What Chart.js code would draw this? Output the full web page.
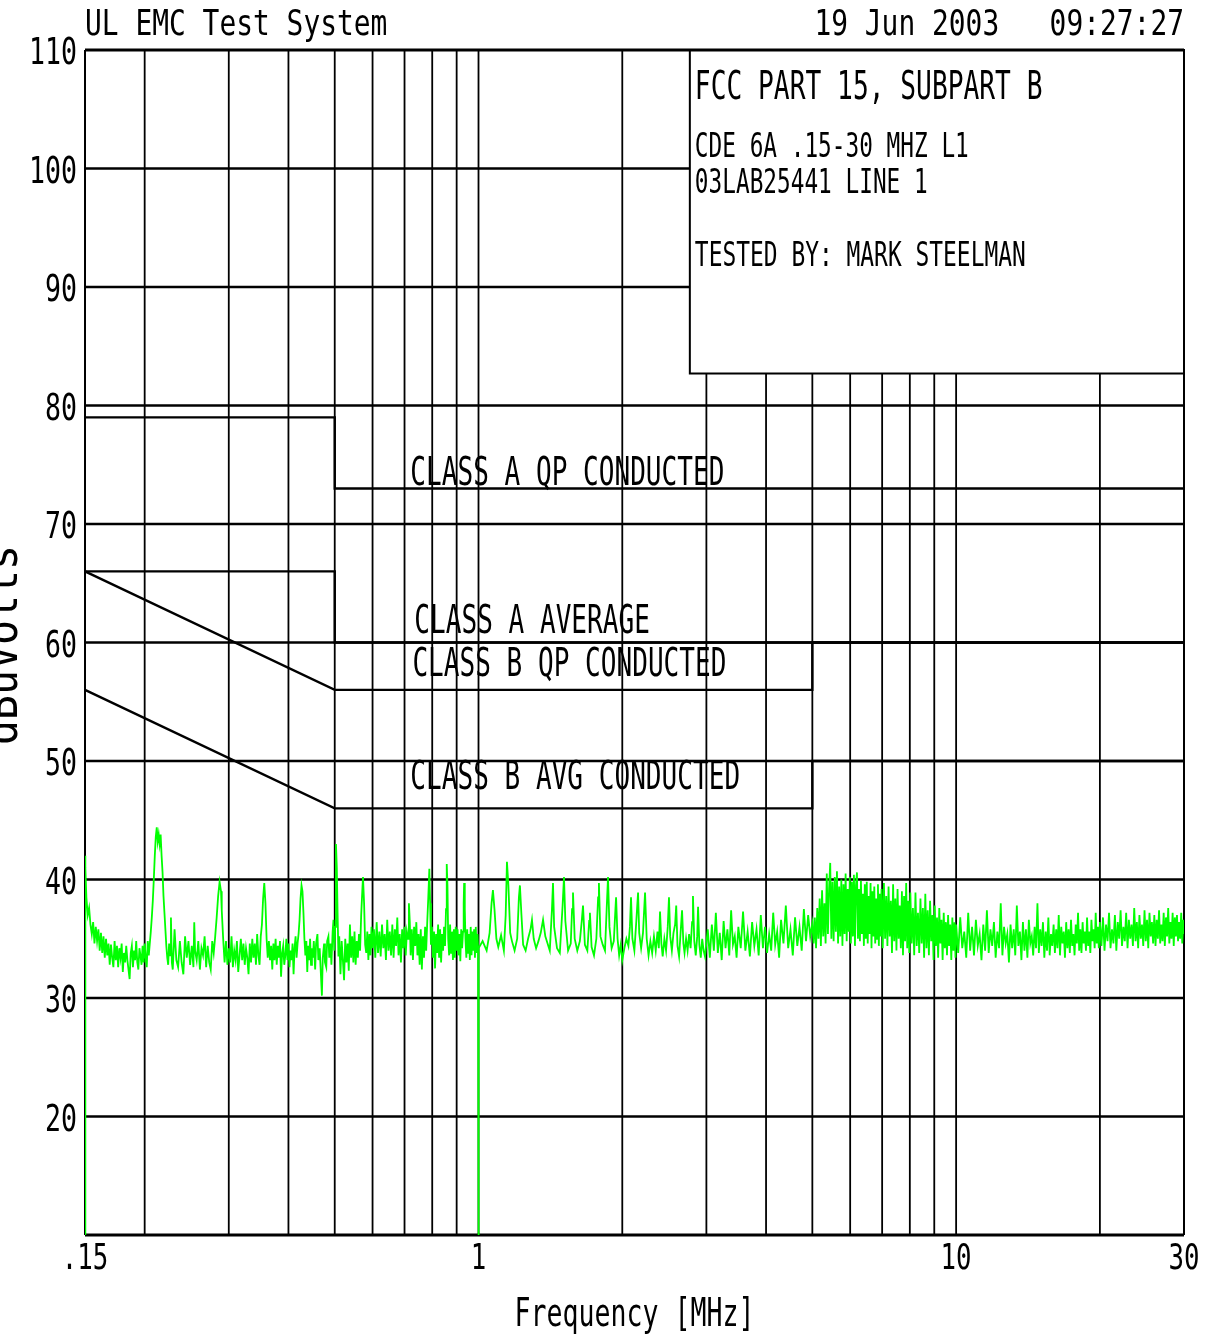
<!DOCTYPE html>
<html>
<head>
<meta charset="utf-8">
<title>UL EMC Test System</title>
<script src="https://cdn.jsdelivr.net/npm/chart.js@4.4.1/dist/chart.umd.min.js"></script>
<style>
  html, body { margin: 0; padding: 0; background: #fff; }
  #wrap { width: 1209px; height: 1340px; }
</style>
</head>
<body>
<div id="wrap"><canvas id="emc" width="1209" height="1340"></canvas></div>
<script>
// grid + axis labels
const freqGrid = [0.2, 0.3, 0.4, 0.5, 0.6, 0.7, 0.8, 0.9, 1, 2, 3, 4, 5, 6, 7, 8, 9, 10, 20];
const levelGrid = [20, 30, 40, 50, 60, 70, 80, 90, 100];
const freqLabels = [[0.15, '.15'], [1, '1'], [10, '10'], [30, '30']];
const levelLabels = [110, 100, 90, 80, 70, 60, 50, 40, 30, 20];

// FCC part 15 limit lines [MHz, dBuV]
const classAQP = [[0.15, 79], [0.5, 79], [0.5, 73], [30, 73]];
const classAAvg = [[0.15, 66], [0.5, 66], [0.5, 60], [30, 60]];
const classBQP = [[0.15, 66], [0.5, 56], [5, 56], [5, 60], [30, 60]];
const classBAvg = [[0.15, 56], [0.5, 46], [5, 46], [5, 50], [30, 50]];

// limit labels: text, left freq, baseline level
const limitLabels = [
  ['CLASS A QP CONDUCTED', 0.72, 73.25],
  ['CLASS A AVERAGE', 0.734, 60.8],
  ['CLASS B QP CONDUCTED', 0.727, 57.2],
  ['CLASS B AVG CONDUCTED', 0.72, 47.6]
];

// info box corner (freq, level)
const infoBoxFreq = 2.77;
const infoBoxLevel = 82.7;
const infoLines = [
  ['FCC PART 15, SUBPART B', 15.8, 28, 99],
  ['CDE 6A .15-30 MHZ L1', 13.7, 25, 157],
  ['03LAB25441 LINE 1', 13.7, 25, 193],
  ['TESTED BY: MARK STEELMAN', 13.8, 25, 266]
];

// measured trace [MHz, dBuV], 0.15 - 0.5 MHz
const lowBand = [
  [0.150, 10], [0.150, 42], [0.1505, 41], [0.151, 38.5], [0.152, 37], [0.153, 37.6], [0.154, 36.2],
  [0.155, 35.4], [0.156, 36.4], [0.157, 34.6], [0.158, 36], [0.159, 34.8], [0.160, 35.8], [0.161, 34],
  [0.162, 35.5], [0.163, 33.8], [0.164, 35.2], [0.165, 33.4], [0.166, 35], [0.167, 33.6], [0.168, 34.6],
  [0.169, 32.8], [0.170, 34.5], [0.171, 33.4], [0.172, 32.6], [0.173, 34.8], [0.174, 33.2], [0.175, 34.4],
  [0.176, 32.6], [0.177, 34.2], [0.178, 33.4], [0.179, 34.6], [0.180, 32.2], [0.181, 33.8], [0.182, 33],
  [0.183, 34.4], [0.184, 33.2], [0.185, 32.4], [0.186, 31.6], [0.187, 33.8], [0.188, 34.4], [0.189, 32.6],
  [0.190, 34], [0.191, 33.2], [0.192, 34.8], [0.193, 33], [0.194, 32.4], [0.195, 34.2], [0.196, 33.6],
  [0.197, 32.8], [0.198, 34.4], [0.199, 33], [0.200, 34.6], [0.201, 33.4], [0.202, 32.6], [0.203, 34.8],
  [0.204, 33.6], [0.205, 34.6], [0.206, 35.6], [0.207, 36.8], [0.208, 38.2], [0.209, 40], [0.210, 42],
  [0.211, 43.6], [0.212, 44.4], [0.213, 43.2], [0.214, 43.8], [0.215, 43], [0.216, 43.8], [0.217, 42],
  [0.218, 40.6], [0.219, 38.6], [0.220, 37.2], [0.221, 35.8], [0.222, 34.4], [0.223, 33.4], [0.224, 32.8],
  [0.225, 34.6], [0.226, 33.6], [0.227, 36.8], [0.228, 33], [0.229, 32.4], [0.231, 35.8], [0.233, 33.2],
  [0.235, 32.6], [0.237, 34.8], [0.239, 33], [0.241, 32], [0.243, 35.2], [0.245, 33.4], [0.247, 34.8],
  [0.249, 32.8], [0.251, 34.4], [0.253, 32.6], [0.254, 36.4], [0.255, 34], [0.257, 33.2], [0.259, 34.8],
  [0.261, 32.4], [0.263, 34.2], [0.265, 33.6], [0.267, 35.2], [0.269, 32.6], [0.271, 34.4], [0.273, 33],
  [0.275, 32.4], [0.277, 34.8], [0.279, 33.8], [0.281, 35.2], [0.283, 36.8], [0.285, 38.6], [0.287, 39.8],
  [0.289, 39], [0.290, 37.4], [0.292, 35], [0.294, 33], [0.296, 34.8], [0.298, 32.8], [0.300, 34.2],
  [0.302, 33], [0.304, 35.2], [0.306, 32.6], [0.308, 34], [0.310, 33.2], [0.312, 34.8], [0.314, 32.2],
  [0.316, 33.6], [0.318, 35], [0.320, 33.2], [0.322, 34.6], [0.324, 32.8], [0.326, 34.2], [0.328, 33.4],
  [0.330, 32], [0.332, 34.6], [0.334, 33], [0.336, 35], [0.338, 33.4], [0.340, 34.6], [0.342, 32.8],
  [0.344, 35.4], [0.346, 33.6], [0.348, 32.8], [0.350, 35.2], [0.352, 36.2], [0.354, 38.4], [0.356, 39.7],
  [0.358, 38], [0.360, 35], [0.362, 33.4], [0.364, 34.8], [0.366, 33.2], [0.368, 34.4], [0.370, 32.4],
  [0.372, 34.6], [0.374, 33.2], [0.376, 35], [0.378, 32.8], [0.380, 34.4], [0.382, 33.4], [0.384, 34.8],
  [0.386, 31.8], [0.388, 33.8], [0.390, 34.4], [0.392, 32.8], [0.394, 33.6], [0.396, 35], [0.398, 33.2],
  [0.400, 34.6], [0.402, 32.6], [0.404, 34], [0.406, 33.2], [0.408, 34.6], [0.410, 32], [0.412, 34.2],
  [0.414, 35.2], [0.416, 33.4], [0.418, 34.6], [0.420, 35.4], [0.422, 36.6], [0.424, 38.4], [0.426, 39.5],
  [0.428, 39], [0.430, 37.2], [0.432, 35], [0.434, 33.6], [0.436, 34.8], [0.438, 32.2], [0.440, 34.4],
  [0.442, 33.2], [0.444, 35], [0.446, 32.8], [0.448, 34.2], [0.450, 33.4], [0.452, 34.8], [0.455, 32.4],
  [0.457, 34.6], [0.460, 35.4], [0.462, 33.2], [0.465, 34.2], [0.467, 32.6], [0.470, 30.2], [0.472, 33.4],
  [0.475, 34.6], [0.477, 33], [0.480, 32.6], [0.482, 34.8], [0.485, 35.2], [0.487, 33.4], [0.490, 34.6],
  [0.492, 32.8], [0.495, 35.6], [0.497, 36.6], [0.499, 34]
];

// 0.5 - 1 MHz, ends with the sweep drop at 1 MHz
const upperLowBand = [
  [0.501, 36], [0.503, 43], [0.505, 41], [0.507, 37], [0.509, 33.5], [0.511, 35.2], [0.514, 32],
  [0.517, 34.8], [0.520, 33.2], [0.523, 31.5], [0.526, 35], [0.529, 33], [0.532, 34.6], [0.535, 32.3],
  [0.538, 36.2], [0.541, 33.4], [0.544, 35.2], [0.547, 33], [0.550, 35.6], [0.553, 32.8], [0.556, 34.8],
  [0.559, 33.4], [0.562, 35.4], [0.565, 34], [0.568, 37], [0.571, 39], [0.573, 40.2], [0.576, 38],
  [0.579, 34.5], [0.582, 33.8], [0.585, 35.6], [0.588, 33.2], [0.591, 35.4], [0.594, 33.6], [0.597, 36],
  [0.600, 34.2], [0.604, 35.8], [0.608, 33.4], [0.612, 36.4], [0.616, 33.8], [0.620, 35.6], [0.624, 33.5],
  [0.628, 36.2], [0.632, 34.2], [0.636, 35.4], [0.640, 33.2], [0.644, 36.6], [0.648, 34], [0.652, 35.6],
  [0.656, 33.6], [0.660, 36.2], [0.664, 33.4], [0.668, 35.8], [0.672, 34.4], [0.676, 36.8], [0.680, 33.6],
  [0.684, 35.4], [0.688, 33], [0.692, 35.8], [0.696, 34.2], [0.700, 36], [0.704, 33.6], [0.708, 35.6],
  [0.712, 35], [0.715, 38], [0.718, 36.4], [0.721, 33.6], [0.725, 35.8], [0.729, 33.2], [0.733, 36],
  [0.737, 34.4], [0.741, 36.4], [0.745, 33.6], [0.749, 35.4], [0.753, 32.8], [0.757, 35.8], [0.761, 32.4],
  [0.765, 35.2], [0.769, 33.4], [0.773, 36], [0.777, 34], [0.781, 36.4], [0.785, 38.5], [0.789, 40.9],
  [0.792, 38], [0.795, 34.5], [0.799, 36], [0.803, 33.4], [0.807, 35.6], [0.811, 32.5], [0.815, 35.4],
  [0.819, 33.8], [0.823, 36.2], [0.827, 33.4], [0.831, 35.8], [0.835, 33], [0.839, 35.4], [0.843, 34],
  [0.847, 36], [0.851, 34.4], [0.855, 37.5], [0.858, 41.3], [0.861, 39.5], [0.864, 35], [0.868, 33.6],
  [0.872, 36.2], [0.876, 33.8], [0.880, 35.6], [0.884, 33.2], [0.888, 35.8], [0.892, 33.4], [0.896, 36],
  [0.900, 34], [0.904, 35.8], [0.908, 33.6], [0.912, 35.4], [0.916, 33.1], [0.920, 35.8], [0.924, 34.2],
  [0.928, 35.6], [0.931, 38], [0.933, 39.7], [0.936, 37.5], [0.939, 35], [0.943, 33.4], [0.947, 35.8],
  [0.951, 33.8], [0.955, 35.4], [0.959, 33.2], [0.963, 36], [0.967, 33.6], [0.971, 35.6], [0.975, 34],
  [0.979, 35.8], [0.983, 33.4], [0.987, 36], [0.991, 33.8], [0.995, 35.4], [0.998, 34.2], [1.000, 10]
];

// 1 - 3 MHz
const midBand = [
  [1.001, 34.2], [1.02, 34.8], [1.04, 34], [1.055, 35.5], [1.065, 38], [1.072, 39.1], [1.08, 37.5],
  [1.09, 35], [1.10, 34.3], [1.115, 35.3], [1.13, 34], [1.14, 37], [1.147, 41.5], [1.155, 39.5],
  [1.165, 35.5], [1.175, 34.8], [1.19, 34], [1.205, 35], [1.215, 38.5], [1.221, 39.5], [1.23, 37],
  [1.24, 34.5], [1.255, 34], [1.27, 35], [1.285, 35.8], [1.294, 36.6], [1.305, 35], [1.32, 34.2],
  [1.335, 34.8], [1.35, 35.5], [1.365, 36.6], [1.38, 35.2], [1.395, 34.6], [1.41, 34], [1.425, 37.5],
  [1.432, 39.7], [1.44, 36], [1.46, 34.2], [1.48, 33.8], [1.50, 37.8], [1.51, 40.2], [1.52, 36.5],
  [1.54, 34], [1.56, 34.6], [1.57, 37.5], [1.577, 38.9], [1.59, 35], [1.61, 34], [1.63, 34.8],
  [1.645, 36.5], [1.655, 37.8], [1.67, 34.5], [1.69, 34], [1.705, 36.5], [1.711, 37.2], [1.725, 34.3],
  [1.745, 33.6], [1.765, 35], [1.78, 38.5], [1.787, 39.7], [1.80, 35.2], [1.82, 34.5], [1.84, 34],
  [1.855, 37.5], [1.867, 40.2], [1.88, 36], [1.90, 34.2], [1.92, 34.8], [1.935, 37.5], [1.941, 38.5],
  [1.955, 35], [1.97, 33.6], [1.985, 34.5], [2.0, 33.2], [2.02, 34.2], [2.04, 35], [2.06, 34.4],
  [2.075, 36], [2.086, 38.5], [2.10, 35], [2.12, 34], [2.14, 36.5], [2.158, 38.9], [2.17, 35.5],
  [2.19, 34.2], [2.21, 35.5], [2.232, 38.9], [2.25, 35], [2.27, 33.6], [2.29, 34.8], [2.31, 33.8],
  [2.33, 35.2], [2.35, 34], [2.37, 35.6], [2.385, 34.2], [2.399, 37.3], [2.415, 34.6], [2.43, 33.5],
  [2.45, 35], [2.47, 34], [2.49, 36], [2.505, 38.5], [2.52, 35.2], [2.54, 34], [2.56, 35.5],
  [2.58, 36.2], [2.594, 37.8], [2.61, 34.4], [2.63, 33.5], [2.65, 35.6], [2.668, 37.4], [2.685, 34.6],
  [2.70, 33.8], [2.72, 35], [2.74, 34], [2.76, 35.4], [2.78, 34.2], [2.80, 36.4], [2.812, 38.6],
  [2.83, 34.8], [2.85, 33.6], [2.87, 35.2], [2.882, 37.7], [2.90, 34.5], [2.92, 33.4], [2.94, 35],
  [2.96, 34], [2.98, 33.5]
];

// 3 - 5 MHz
const highBand = [
  [3.02, 35.8], [3.05, 33.4], [3.08, 36.2], [3.11, 34], [3.14, 37.2], [3.17, 33.8], [3.20, 35.5],
  [3.23, 33.2], [3.26, 36.5], [3.29, 34.2], [3.32, 35.8], [3.35, 33.6], [3.38, 37.4], [3.41, 34.5],
  [3.44, 35.2], [3.47, 33.4], [3.50, 36], [3.54, 34.2], [3.58, 37.3], [3.62, 34], [3.66, 35.6],
  [3.70, 33.5], [3.74, 36.4], [3.78, 34.4], [3.82, 35.8], [3.86, 33.6], [3.90, 37], [3.94, 34.2],
  [3.98, 36], [4.02, 33.8], [4.06, 35.4], [4.10, 34], [4.14, 37.2], [4.18, 34.5], [4.22, 35.6],
  [4.26, 33.4], [4.30, 36.6], [4.35, 34.6], [4.40, 37.8], [4.45, 34.2], [4.50, 35.8], [4.55, 33.6],
  [4.60, 36.8], [4.65, 34.4], [4.70, 36], [4.75, 34], [4.80, 37.5], [4.85, 34.8], [4.90, 37],
  [4.95, 35.2], [5.00, 36.3]
];

// 5 - 10 MHz, the dense burst
const burstBand = [
  [5.03, 34.6], [5.06, 36.8], [5.09, 34.2], [5.12, 37.6], [5.15, 35], [5.18, 38.4], [5.21, 34.4],
  [5.24, 39.1], [5.27, 35.2], [5.30, 38], [5.33, 34.6], [5.36, 40.5], [5.39, 35.4], [5.42, 39.2],
  [5.45, 41.4], [5.48, 35], [5.51, 39.8], [5.54, 34.8], [5.57, 40.2], [5.60, 35.6], [5.63, 40.7],
  [5.66, 34.6], [5.69, 39.4], [5.72, 35.2], [5.75, 40], [5.78, 34.4], [5.81, 39.6], [5.84, 35.4],
  [5.87, 40.5], [5.90, 34.8], [5.93, 39.2], [5.96, 35.6], [5.99, 40.2], [6.02, 34.6], [6.05, 39.8],
  [6.08, 35.2], [6.11, 40.4], [6.14, 34.4], [6.17, 39.5], [6.20, 40.6], [6.23, 35], [6.26, 39.2],
  [6.29, 34.8], [6.32, 39.9], [6.35, 35.4], [6.38, 38.8], [6.41, 34.4], [6.44, 39.6], [6.47, 35],
  [6.50, 39.8], [6.53, 34.6], [6.56, 38.6], [6.59, 35.4], [6.62, 39.7], [6.65, 34.2], [6.68, 39],
  [6.71, 35.2], [6.74, 39.4], [6.77, 34.6], [6.80, 38.4], [6.83, 35], [6.86, 39.6], [6.89, 34.4],
  [6.92, 38.8], [6.95, 35.2], [6.98, 39.2], [7.02, 34.2], [7.06, 39.7], [7.10, 35], [7.14, 38.6],
  [7.18, 34.4], [7.22, 39.4], [7.26, 35.2], [7.30, 38.2], [7.34, 33.8], [7.38, 39.6], [7.42, 34.8],
  [7.46, 38.4], [7.50, 34], [7.54, 39.2], [7.58, 35], [7.62, 37.8], [7.66, 34.2], [7.70, 39],
  [7.74, 33.6], [7.78, 38.6], [7.82, 34.8], [7.86, 39.7], [7.90, 34.2], [7.94, 38.2], [7.98, 33.8],
  [8.02, 38.9], [8.07, 34.6], [8.12, 37.6], [8.17, 33.6], [8.22, 38.9], [8.27, 34.4], [8.32, 37.2],
  [8.37, 33.8], [8.42, 38.4], [8.47, 34.6], [8.52, 37.6], [8.57, 33.4], [8.62, 38.8], [8.67, 34.2],
  [8.72, 37.4], [8.77, 33.6], [8.82, 38.2], [8.87, 34.8], [8.92, 37], [8.97, 33.2], [9.02, 37.8],
  [9.07, 34.4], [9.12, 36.8], [9.17, 33.4], [9.22, 37.6], [9.27, 34.6], [9.32, 36.6], [9.37, 33.2],
  [9.42, 37.2], [9.47, 34.2], [9.52, 36.4], [9.57, 33.6], [9.62, 37], [9.67, 34.4], [9.72, 36.2],
  [9.77, 33.2], [9.82, 36.8], [9.87, 34], [9.92, 36.4], [9.97, 33.4]
];

// 10 - 20 MHz
const topBand = [
  [10.0, 36.2], [10.1, 33.8], [10.2, 36.8], [10.3, 34.2], [10.4, 35.6], [10.5, 33.4], [10.6, 37.2],
  [10.7, 34], [10.8, 36], [10.9, 33.6], [11.0, 36.6], [11.1, 34.4], [11.2, 35.4], [11.3, 33.2],
  [11.4, 36.2], [11.5, 34], [11.6, 37.4], [11.7, 33.8], [11.8, 35.8], [11.9, 34.4], [12.0, 36.4],
  [12.1, 33.4], [12.2, 35.6], [12.3, 34.2], [12.4, 38], [12.5, 33.6], [12.6, 36], [12.7, 34.6],
  [12.8, 35.4], [12.9, 33], [13.0, 36.2], [13.1, 34.2], [13.2, 35.8], [13.3, 33.6], [13.4, 37.8],
  [13.5, 34.4], [13.6, 35.6], [13.7, 33.2], [13.8, 36.4], [13.9, 34], [14.0, 35.8], [14.1, 33.4],
  [14.2, 36.6], [14.3, 34.6], [14.4, 35.2], [14.5, 33.6], [14.6, 36], [14.7, 34.2], [14.8, 38],
  [14.9, 33.8], [15.0, 35.8], [15.1, 34.4], [15.2, 36.4], [15.3, 33.4], [15.4, 35.6], [15.5, 34],
  [15.6, 36.8], [15.7, 33.6], [15.8, 35.4], [15.9, 34.4], [16.0, 36.2], [16.1, 33.8], [16.2, 35.8],
  [16.3, 34.2], [16.4, 37], [16.5, 33.6], [16.6, 36], [16.7, 34.6], [16.8, 35.6], [16.9, 33.4],
  [17.0, 36.4], [17.1, 34.2], [17.2, 35.8], [17.3, 33.8], [17.4, 36.6], [17.5, 34.4], [17.6, 35.4],
  [17.7, 33.6], [17.8, 36.2], [17.9, 34.6], [18.0, 37.2], [18.1, 34], [18.2, 35.8], [18.3, 33.8],
  [18.4, 36.4], [18.5, 34.6], [18.6, 35.6], [18.7, 34], [18.8, 36.8], [18.9, 34.4], [19.0, 35.6],
  [19.1, 33.8], [19.2, 36.6], [19.3, 34.8], [19.4, 35.8], [19.5, 34.2], [19.6, 37.2], [19.7, 34.6],
  [19.8, 36], [19.9, 34.2]
];

// 20 - 30 MHz
const endBand = [
  [20.0, 36.4], [20.15, 34.4], [20.3, 36.8], [20.45, 34], [20.6, 36.2], [20.75, 34.8], [20.9, 37.2],
  [21.05, 34.2], [21.2, 35.8], [21.35, 34.6], [21.5, 37], [21.65, 34], [21.8, 36.4], [21.95, 35],
  [22.1, 37.4], [22.25, 34.4], [22.4, 36], [22.55, 34.8], [22.7, 37.2], [22.85, 34.2], [23.0, 36.6],
  [23.15, 35], [23.3, 36.2], [23.45, 34.4], [23.6, 37.6], [23.75, 34.8], [23.9, 36.4], [24.05, 34.2],
  [24.2, 37], [24.35, 35], [24.5, 36.2], [24.65, 34.4], [24.8, 37.4], [24.95, 34.8], [25.1, 36.6],
  [25.25, 34.2], [25.4, 37.2], [25.55, 35.2], [25.7, 36.4], [25.85, 34.6], [26.0, 37], [26.15, 34.4],
  [26.3, 36.6], [26.45, 35], [26.6, 37.4], [26.75, 34.6], [26.9, 36.2], [27.05, 34.8], [27.2, 37.2],
  [27.35, 34.4], [27.5, 36.8], [27.65, 35.2], [27.8, 37.6], [27.95, 34.6], [28.1, 36.4], [28.25, 35],
  [28.4, 37.2], [28.55, 34.4], [28.7, 36.8], [28.85, 35.2], [29.0, 37], [29.15, 34.8], [29.3, 36.4],
  [29.45, 35], [29.6, 37.2], [29.75, 34.6], [29.9, 36.6], [30.0, 35.4]
];

const FONT = '"DejaVu Sans Mono", monospace';

function toPoints(pairs) {
  return pairs.map(p => ({ x: p[0], y: p[1] }));
}

// plotter style text: narrow, tall glyphs
function plotText(ctx, text, x, y, adv, cap, align) {
  const size = adv / 0.602;
  const sy = cap / (0.729 * size);
  ctx.save();
  ctx.font = size.toFixed(2) + 'px ' + FONT;
  ctx.textAlign = align || 'left';
  ctx.textBaseline = 'alphabetic';
  ctx.fillStyle = '#000';
  ctx.translate(x, y);
  ctx.scale(1, sy);
  ctx.fillText(text, 0, 0);
  ctx.restore();
}

function hLine(ctx, x1, x2, y) {
  ctx.beginPath(); ctx.moveTo(x1, y); ctx.lineTo(x2, y); ctx.stroke();
}
function vLine(ctx, x, y1, y2) {
  ctx.beginPath(); ctx.moveTo(x, y1); ctx.lineTo(x, y2); ctx.stroke();
}

const framePlugin = {
  id: 'plotFrame',
  beforeDatasetsDraw(chart) {
    const { ctx, chartArea: a, scales: { x, y } } = chart;
    ctx.save();
    ctx.strokeStyle = '#000';
    ctx.lineWidth = 1.8;
    freqGrid.forEach(f => vLine(ctx, x.getPixelForValue(f), a.top, a.bottom));
    ctx.lineWidth = 2.4;
    levelGrid.forEach(v => hLine(ctx, a.left, a.right, y.getPixelForValue(v)));

    // info box hides the grid behind it
    const bx = x.getPixelForValue(infoBoxFreq);
    const by = y.getPixelForValue(infoBoxLevel);
    ctx.fillStyle = '#fff';
    ctx.fillRect(bx, a.top, a.right - bx, by - a.top);
    ctx.lineWidth = 2;
    ctx.strokeRect(bx, a.top, a.right - bx, by - a.top);

    // plot border
    ctx.lineWidth = 3;
    hLine(ctx, a.left, a.right, a.top);
    hLine(ctx, a.left, a.right, a.bottom);
    ctx.lineWidth = 2;
    vLine(ctx, a.left, a.top, a.bottom);
    vLine(ctx, a.right, a.top, a.bottom);
    ctx.restore();
  },
  afterDraw(chart) {
    const { ctx, chartArea: a, scales: { x, y } } = chart;

    plotText(ctx, 'UL EMC Test System', a.left, 35, 16.8, 26, 'left');
    plotText(ctx, '19 Jun 2003   09:27:27', a.right, 35, 16.8, 26, 'right');

    levelLabels.forEach(v => plotText(ctx, String(v), 77, y.getPixelForValue(v) + 14, 16, 27, 'right'));
    freqLabels.forEach(l => plotText(ctx, l[1], x.getPixelForValue(l[0]), 1269, 15.5, 26, 'center'));
    plotText(ctx, 'Frequency [MHz]', (a.left + a.right) / 2, 1326, 16, 28, 'center');

    // y title, cut off by the left edge like the original plot
    ctx.save();
    ctx.translate(17, 645);
    ctx.rotate(-Math.PI / 2);
    plotText(ctx, 'dBuVolts', 0, 0, 25, 34, 'center');
    ctx.restore();

    limitLabels.forEach(l => plotText(ctx, l[0], x.getPixelForValue(l[1]), y.getPixelForValue(l[2]), 15.7, 28, 'left'));

    const bx = x.getPixelForValue(infoBoxFreq);
    infoLines.forEach(l => plotText(ctx, l[0], bx + 5, l[3], l[1], l[2], 'left'));
  }
};

function limitSet(label, pairs) {
  return {
    label: label,
    data: toPoints(pairs),
    showLine: true,
    borderColor: '#000',
    borderWidth: 2.4,
    pointRadius: 0,
    tension: 0
  };
}

const trace = toPoints(lowBand.concat(upperLowBand, midBand, highBand, burstBand, topBand, endBand));

new Chart(document.getElementById('emc'), {
  type: 'scatter',
  data: {
    datasets: [
      {
        label: 'Line 1',
        data: trace,
        showLine: true,
        borderColor: '#00ff00',
        borderWidth: 1.8,
        pointRadius: 0,
        tension: 0
      },
      limitSet('Class A QP', classAQP),
      limitSet('Class A Avg', classAAvg),
      limitSet('Class B QP', classBQP),
      limitSet('Class B Avg', classBAvg)
    ]
  },
  options: {
    responsive: false,
    animation: false,
    layout: { padding: { left: 85, right: 25, top: 50, bottom: 105 } },
    scales: {
      x: { type: 'logarithmic', min: 0.15, max: 30, display: false },
      y: { type: 'linear', min: 10, max: 110, display: false }
    },
    plugins: {
      legend: { display: false },
      tooltip: { enabled: false }
    }
  },
  plugins: [framePlugin]
});
</script>
</body>
</html>
